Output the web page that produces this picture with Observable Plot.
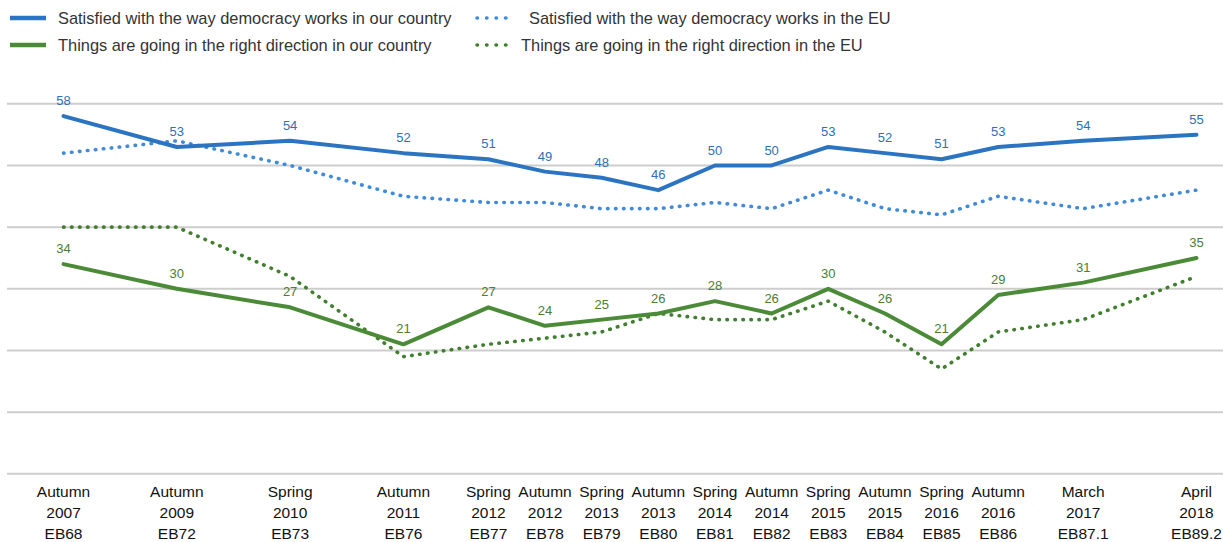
<!DOCTYPE html>
<html><head><meta charset="utf-8">
<script src="https://cdn.jsdelivr.net/npm/d3@7"></script>
<script src="https://cdn.jsdelivr.net/npm/@observablehq/plot@0.6"></script>
<style>
body{margin:0;background:#fff;font-family:"Liberation Sans",Arial,sans-serif;}
#legend{position:relative;height:60px;width:1223px;}
.item{position:absolute;height:20px;font-size:16.4px;color:#333;line-height:20px;white-space:nowrap;}
.item svg{position:absolute;left:0;top:0;}
.item span{position:absolute;top:0;}
</style></head><body>
<div id="legend"></div>
<div id="chart"></div>
<script>
// Survey waves (x axis labels) and their positions on the axis (in label slots)
const waves = [
  "Autumn\n2007\nEB68","Autumn\n2009\nEB72","Spring\n2010\nEB73","Autumn\n2011\nEB76",
  "Spring\n2012\nEB77","Autumn\n2012\nEB78","Spring\n2013\nEB79","Autumn\n2013\nEB80",
  "Spring\n2014\nEB81","Autumn\n2014\nEB82","Spring\n2015\nEB83","Autumn\n2015\nEB84",
  "Spring\n2016\nEB85","Autumn\n2016\nEB86","March\n2017\nEB87.1","April\n2018\nEB89.2"
];
const slot = [0,2,4,6,7.5,8.5,9.5,10.5,11.5,12.5,13.5,14.5,15.5,16.5,18,20];

const countrySatisfied = [58,53,54,52,51,49,48,46,50,50,53,52,51,53,54,55];
const euSatisfied      = [52,54,50,45,44,44,43,43,44,43,46,43,42,45,43,46];
const countryDirection = [34,30,27,21,27,24,25,26,28,26,30,26,21,29,31,35];
const euDirection      = [40,40,32,19,21,22,23,26,25,25,28,23,17,23,25,32];

const gridValues = [0,10,20,30,40,50,60];

const seriesNames = [
  "Satisfied with the way democracy works in our country",
  "Satisfied with the way democracy works in the EU",
  "Things are going in the right direction in our country",
  "Things are going in the right direction in the EU"
];

const BLUE = "#2b74c1", BLUE_DOT = "#3f8bd9", GREEN = "#4b8a37", GREEN_DOT = "#3f7f2d";
const BLUE_TXT = "#2e6fb8", GREEN_TXT = "#4a7e33";
const DOTS = "0.5 7.5";

// Legend
const legend = document.getElementById("legend");
const legendItems = [
  {name: seriesNames[0], color: BLUE, dotted: false, left: 10, top: 8, textLeft: 48},
  {name: seriesNames[1], color: BLUE_DOT, dotted: true, left: 474, top: 8, textLeft: 55},
  {name: seriesNames[2], color: GREEN, dotted: false, left: 10, top: 35, textLeft: 48},
  {name: seriesNames[3], color: GREEN_DOT, dotted: true, left: 474, top: 35, textLeft: 47}
];
for (const it of legendItems) {
  const d = document.createElement("div");
  d.className = "item";
  d.style.left = it.left + "px";
  d.style.top = it.top + "px";
  d.style.width = "460px";
  const sw = it.dotted
    ? `<svg width="40" height="20"><line x1="3" y1="10" x2="38" y2="10" stroke="${it.color}" stroke-width="3.5" stroke-linecap="round" stroke-dasharray="0.5 9"/></svg>`
    : `<svg width="40" height="20"><line x1="0" y1="10" x2="36" y2="10" stroke="${it.color}" stroke-width="4.5"/></svg>`;
  d.innerHTML = sw + `<span style="left:${it.textLeft}px">${it.name}</span>`;
  legend.appendChild(d);
}

const rows = (vals, series) => vals.map((v, i) => ({x: slot[i], v, series}));
const csRows = rows(countrySatisfied, seriesNames[0]);
const esRows = rows(euSatisfied, seriesNames[1]);
const cdRows = rows(countryDirection, seriesNames[2]);
const edRows = rows(euDirection, seriesNames[3]);
const labelOf = new Map(slot.map((s, i) => [s, waves[i]]));

const chart = Plot.plot({
  width: 1223,
  height: 482,
  marginLeft: 7,
  marginRight: 0,
  marginTop: 43.3,
  marginBottom: 68.7,
  style: {fontFamily: "'Liberation Sans', Arial, sans-serif", background: "#fff"},
  x: {domain: [-0.989, 20.477]},
  y: {domain: [0, 60], axis: null},
  marks: [
    Plot.ruleY(gridValues, {stroke: "#cdcdcd", strokeWidth: 2}),
    Plot.axisX(slot, {tickSize: 0, tickPadding: 8, tickFormat: d => labelOf.get(d),
      fontSize: 15.5, lineHeight: 1.36, fill: "#111", label: null}),
    Plot.line(esRows, {x: "x", y: "v", stroke: BLUE_DOT, strokeWidth: 3.6, strokeDasharray: DOTS, strokeLinecap: "round"}),
    Plot.line(edRows, {x: "x", y: "v", stroke: GREEN_DOT, strokeWidth: 3.6, strokeDasharray: DOTS, strokeLinecap: "round"}),
    Plot.line(csRows, {x: "x", y: "v", stroke: BLUE, strokeWidth: 4}),
    Plot.line(cdRows, {x: "x", y: "v", stroke: GREEN, strokeWidth: 4}),
    Plot.text(csRows, {x: "x", y: "v", text: d => String(d.v), dy: -15, fill: BLUE_TXT, fontSize: 13}),
    Plot.text(cdRows, {x: "x", y: "v", text: d => String(d.v), dy: -15, fill: GREEN_TXT, fontSize: 13})
  ]
});
document.getElementById("chart").appendChild(chart);
</script>
</body></html>
